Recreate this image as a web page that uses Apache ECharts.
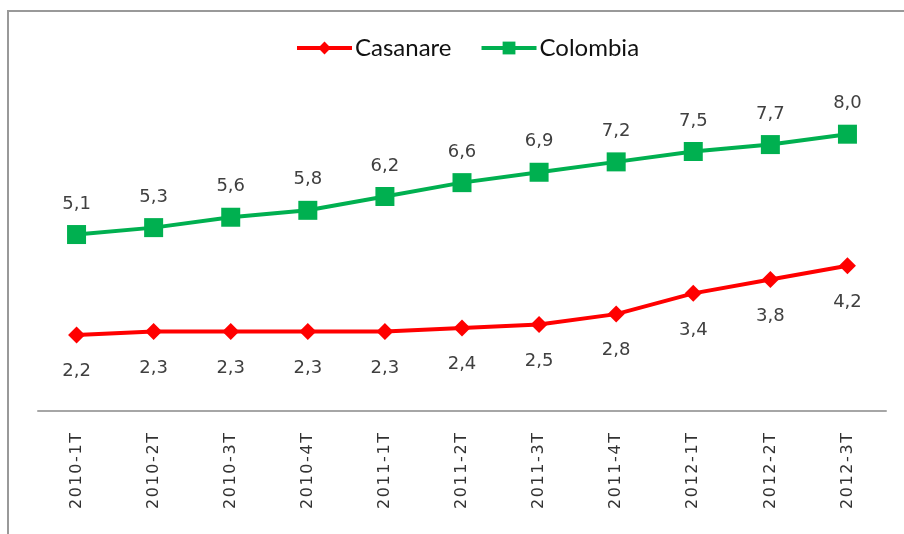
<!DOCTYPE html>
<html>
<head>
<meta charset="utf-8">
<script src="https://cdn.jsdelivr.net/npm/echarts@6/dist/echarts.min.js"></script>
<style>
  html, body { margin: 0; padding: 0; background: #fff; }
  #chart { width: 904px; height: 534px; }
</style>
</head>
<body>
<div id="chart"></div>
<script>
const categories = ['2010-1T', '2010-2T', '2010-3T', '2010-4T', '2011-1T', '2011-2T', '2011-3T', '2011-4T', '2012-1T', '2012-2T', '2012-3T']
const casanare = [2.2, 2.3, 2.3, 2.3, 2.3, 2.4, 2.5, 2.8, 3.4, 3.8, 4.2]
const colombia = [5.1, 5.3, 5.6, 5.8, 6.2, 6.6, 6.9, 7.2, 7.5, 7.7, 8.0]

const labelFont = 'DejaVu Sans'
const fmtComma = function (p) { return p.value.toFixed(1).replace('.', ',') }

let chart = echarts.init(document.getElementById('chart'))
let option = {
  animation: false,
  grid: {
    left: 38,
    right: 18,
    top: 65,
    bottom: 123,
  },
  graphic: [
    {
      type: 'rect',
      shape: { x: 8, y: 11, width: 1000, height: 1000 },
      style: { fill: 'none', stroke: '#999', lineWidth: 2 },
      silent: true,
    }
  ],
  legend: {
    top: 31,
    left: 290,
    itemWidth: 55,
    itemHeight: 16,
    itemGap: 28,
    lineStyle: { width: 4 },
    textStyle: {
      fontFamily: 'Lato',
      fontSize: 24,
      color: '#111',
      padding: [0, 0, 0, -2],
    },
    data: ['Casanare', 'Colombia'],
  },
  xAxis: {
    type: 'category',
    data: categories,
    boundaryGap: true,
    axisLine: {
      lineStyle: { color: '#a6a6a6', width: 2 }
    },
    axisTick: { show: false },
    axisLabel: {
      interval: 0,
      rotate: 90,
      margin: 22,
      fontFamily: labelFont,
      fontSize: 16,
      color: '#333',
      formatter: function (v) { return v.split('').join('\u200a') },
    },
  },
  yAxis: {
    type: 'value',
    min: 0,
    max: 10,
    show: false,
    splitLine: { show: false },
  },
  series: [
    {
      name: 'Casanare',
      type: 'line',
      data: casanare,
      symbol: 'diamond',
      symbolSize: 17,
      lineStyle: { color: '#ff0000', width: 4 },
      itemStyle: { color: '#ff0000' },
      label: {
        show: true,
        position: 'bottom',
        distance: 19,
        fontFamily: labelFont,
        fontSize: 18,
        color: '#404040',
        formatter: fmtComma,
      },
    },
    {
      name: 'Colombia',
      type: 'line',
      data: colombia,
      symbol: 'rect',
      symbolSize: 19,
      lineStyle: { color: '#00b050', width: 4 },
      itemStyle: { color: '#00b050' },
      label: {
        show: true,
        position: 'top',
        distance: 12,
        fontFamily: labelFont,
        fontSize: 18,
        color: '#404040',
        formatter: fmtComma,
      },
    },
  ]
}
chart.setOption(option)
</script>
</body>
</html>
